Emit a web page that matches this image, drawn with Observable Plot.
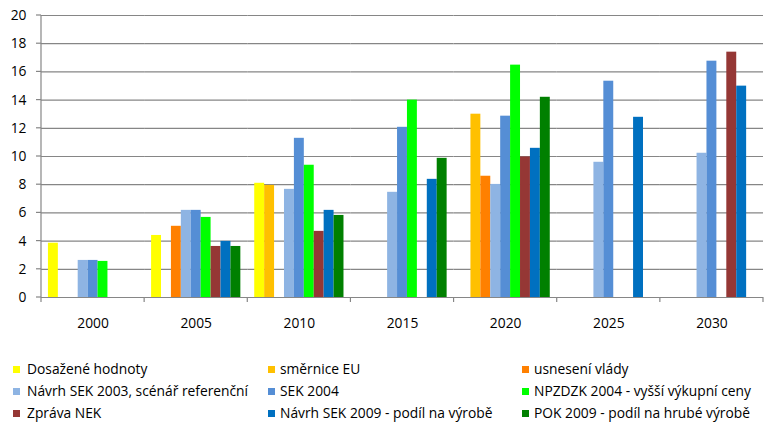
<!DOCTYPE html>
<html>
<head>
<meta charset="utf-8">
<script src="https://cdn.jsdelivr.net/npm/d3@7"></script>
<script src="https://cdn.jsdelivr.net/npm/@observablehq/plot@0.6"></script>
<style>
  html, body { margin: 0; padding: 0; background: #fff; }
  #wrap { position: relative; width: 774px; height: 426px; font-family: "Open Sans", sans-serif; color: #000; }
  #chart { position: absolute; left: 0; top: 0; }
  .leg { position: absolute; font-size: 13.8px; line-height: 18px; white-space: nowrap; }
  .sw { position: absolute; width: 7px; height: 7px; }
</style>
</head>
<body>
<div id="wrap"><div id="chart"></div></div>
<script>
// ---- data ----
const years = ["2000", "2005", "2010", "2015", "2020", "2025", "2030"];
const seriesNames = [
  "Dosažené hodnoty", "směrnice EU", "usnesení vlády",
  "Návrh SEK 2003, scénář referenční", "SEK 2004", "NPZDZK 2004 - vyšší výkupní ceny",
  "Zpráva NEK", "Návrh SEK 2009 - podíl na výrobě", "POK 2009 - podíl na hrubé výrobě"
];
const seriesColors = ["#FFFF00", "#FFC000", "#FF8000", "#8EB4E3", "#558ED5", "#00FF00", "#953735", "#0070C0", "#008000"];
const dosazene = [3.85, 4.4, 8.1, null, null, null, null];
const smernice = [null, null, 7.95, null, 13.0, null, null];
const usneseni = [null, 5.05, null, null, 8.6, null, null];
const sek2003  = [2.63, 6.18, 7.67, 7.46, 8.02, 9.59, 10.23];
const sek2004  = [2.63, 6.18, 11.29, 12.07, 12.86, 15.34, 16.76];
const npzdzk   = [2.56, 5.68, 9.38, 14.0, 16.48, null, null];
const nek      = [null, 3.62, 4.69, null, 9.97, null, 17.4];
const sek2009  = [null, 3.98, 6.18, 8.38, 10.58, 12.78, 14.99];
const pok2009  = [null, 3.62, 5.82, 9.87, 14.2, null, null];
const yTicks = [0, 2, 4, 6, 8, 10, 12, 14, 16, 18, 20];

const seriesValues = [dosazene, smernice, usneseni, sek2003, sek2004, npzdzk, nek, sek2009, pok2009];
const rows = [];
seriesValues.forEach((vals, si) => vals.forEach((v, yi) => {
  if (v != null) rows.push({year: years[yi], series: seriesNames[si], value: v});
}));

const gridColor = "#868686";
const W = 774, H = 340, mL = 41, mR = 11, mT = 15, mB = 43;

const plot = Plot.plot({
  width: W, height: H,
  marginLeft: mL, marginRight: mR, marginTop: mT, marginBottom: mB,
  style: {fontFamily: "'Open Sans', sans-serif", fontSize: "13.8px", color: "#000", background: "#fff"},
  fx: {domain: years, padding: 0, round: false, axis: "bottom", tickSize: 0, tickPadding: 21, label: null},
  x: {domain: seriesNames, paddingInner: 0, paddingOuter: 0.7, round: false, axis: null},
  y: {domain: [0, 20], ticks: yTicks, tickSize: 0, tickPadding: 15, label: null},
  color: {domain: seriesNames, range: seriesColors},
  facet: {data: rows, x: "year"},
  marks: [
    Plot.ruleY(yTicks, {stroke: gridColor, strokeWidth: 1.2}),
    Plot.barY(rows, {x: "series", y: "value", fill: "series"})
  ]
});
document.getElementById("chart").appendChild(plot);

// axis lines & tick marks drawn from the plot's own scales
const fxS = plot.scale("fx"), yS = plot.scale("y");
const svg = d3.select(plot);
const g = svg.append("g").attr("stroke", gridColor).attr("stroke-width", 1.2);
const y0 = yS.apply(0), yTop = yS.apply(20);
const bounds = years.map(y => fxS.apply(y));
bounds.push(fxS.apply(years[years.length - 1]) + fxS.bandwidth);
const x0 = bounds[0];
g.append("line").attr("x1", x0).attr("x2", x0).attr("y1", yTop).attr("y2", y0);
bounds.forEach(b => g.append("line").attr("x1", b).attr("x2", b).attr("y1", y0).attr("y2", y0 + 5));
yTicks.forEach(t => g.append("line").attr("x1", x0 - 5).attr("x2", x0).attr("y1", yS.apply(t)).attr("y2", yS.apply(t)));

// legend
const wrap = d3.select("#wrap");
const colSw = [13, 268, 522], colTx = [27, 280, 534], rowC = [369.5, 391.5, 413.5];
seriesNames.forEach((name, i) => {
  const c = i % 3, r = Math.floor(i / 3);
  wrap.append("div").attr("class", "sw")
    .style("left", colSw[c] + "px").style("top", (rowC[r] - 3.5) + "px")
    .style("background", seriesColors[i]);
  wrap.append("div").attr("class", "leg")
    .style("left", colTx[c] + "px").style("top", (rowC[r] - 9.5) + "px")
    .text(name);
});
</script>
</body>
</html>
